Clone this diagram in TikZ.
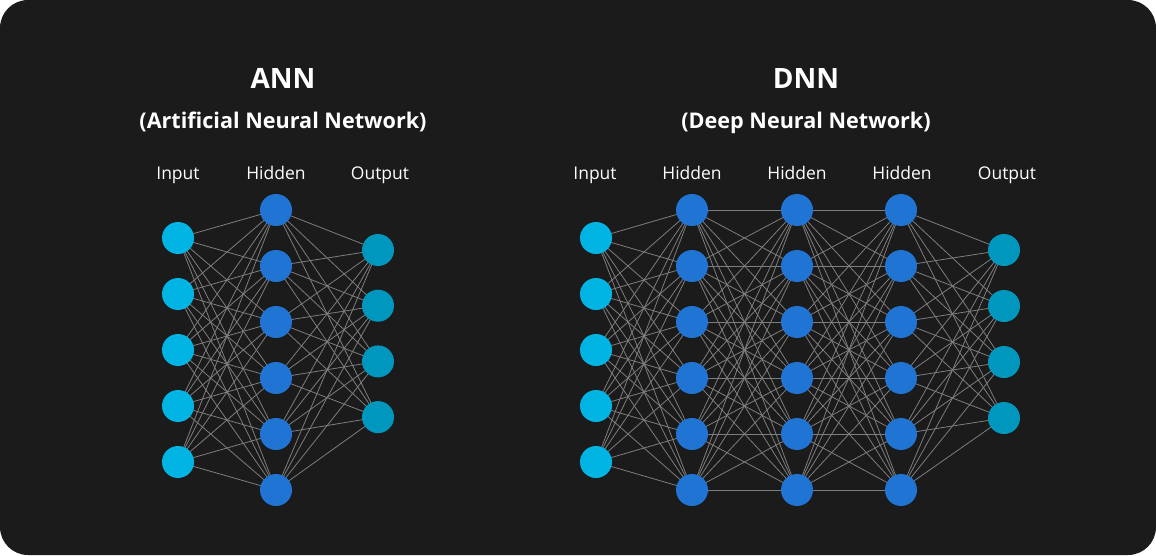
\documentclass[tikz,border=0pt]{standalone}
\usepackage{fontspec}
\setmainfont{Open Sans}
\usetikzlibrary{backgrounds}
\definecolor{bgdark}{HTML}{1B1B1B}
\definecolor{incol}{HTML}{00B4E4}
\definecolor{hidcol}{HTML}{1F74D4}
\definecolor{outcol}{HTML}{0097BE}
\definecolor{edgecol}{HTML}{7E7E7E}
\begin{document}
\begin{tikzpicture}[x=1pt,y=-1pt,
  neuron/.style={circle,inner sep=0pt,minimum size=32pt},
  innode/.style={neuron,fill=incol},
  hidnode/.style={neuron,fill=hidcol},
  outnode/.style={neuron,fill=outcol},
  link/.style={draw=edgecol,line width=0.8pt},
  title/.style={text=white,anchor=base,inner sep=0pt,font=\fontsize{28}{28}\selectfont\bfseries},
  subtitle/.style={text=white,anchor=base,inner sep=0pt,font=\fontsize{21.6}{21.6}\selectfont\bfseries},
  layerlabel/.style={text=white,anchor=base,inner sep=0pt,font=\fontsize{17.5}{17.5}\selectfont}]
\useasboundingbox (0,0) rectangle (1156,555);

% ANN titles
\node[title] (anntitle) at (283,88) {ANN};
\node[subtitle] (annsub) at (283,128) {(Artificial Neural Network)};
\node[layerlabel] (annlin) at (178,179) {Input};
\node[layerlabel] (annlhid) at (276,179) {Hidden};
\node[layerlabel] (annlout) at (380,179) {Output};

% DNN titles
\node[title] (dnntitle) at (806,88) {DNN};
\node[subtitle] (dnnsub) at (806,128) {(Deep Neural Network)};
\node[layerlabel] (dnnlin) at (595,179) {Input};
\node[layerlabel] (dnnlh1) at (692,179) {Hidden};
\node[layerlabel] (dnnlh2) at (797,179) {Hidden};
\node[layerlabel] (dnnlh3) at (902,179) {Hidden};
\node[layerlabel] (dnnlout) at (1007,179) {Output};

% ANN nodes
\foreach \i in {1,...,5} \node[innode] (ai\i) at (178,{238+56*(\i-1)}) {};
\foreach \i in {1,...,6} \node[hidnode] (ah\i) at (276,{210+56*(\i-1)}) {};
\foreach \i in {1,...,4} \node[outnode] (ao\i) at (378,{250+55.7*(\i-1)}) {};

% DNN nodes
\foreach \i in {1,...,5} \node[innode] (di\i) at (596,{238+56*(\i-1)}) {};
\foreach \i in {1,...,6} {
  \node[hidnode] (da\i) at (692,{210+56*(\i-1)}) {};
  \node[hidnode] (db\i) at (797,{210+56*(\i-1)}) {};
  \node[hidnode] (dc\i) at (901,{210+56*(\i-1)}) {};
}
\foreach \i in {1,...,4} \node[outnode] (do\i) at (1004,{250+56*(\i-1)}) {};

% edges behind nodes
\begin{pgfonlayer}{background}
\fill[white] (0,0) rectangle (1156,555);
\fill[bgdark,rounded corners=28pt] (0,0) rectangle (1156,555);
\foreach \i in {1,...,5} \foreach \j in {1,...,6} {
  \draw[link] (ai\i.center) -- (ah\j.center);
  \draw[link] (di\i.center) -- (da\j.center);
}
\foreach \i in {1,...,6} \foreach \j in {1,...,4} {
  \draw[link] (ah\i.center) -- (ao\j.center);
  \draw[link] (dc\i.center) -- (do\j.center);
}
\foreach \i in {1,...,6} \foreach \j in {1,...,6} {
  \draw[link] (da\i.center) -- (db\j.center);
  \draw[link] (db\i.center) -- (dc\j.center);
}
\end{pgfonlayer}
\end{tikzpicture}
\end{document}
